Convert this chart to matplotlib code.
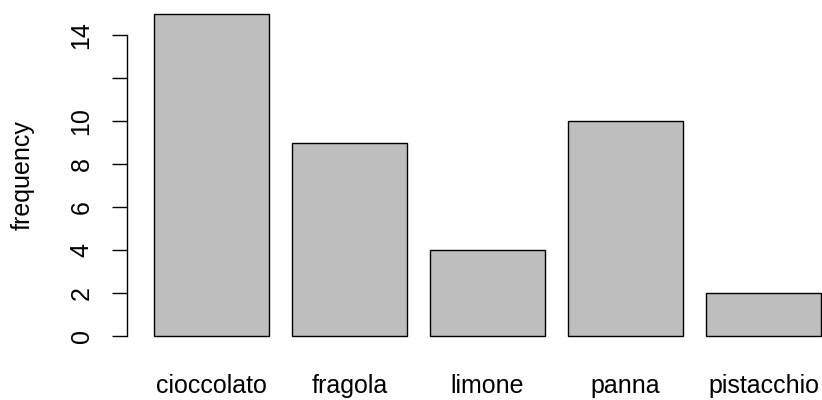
import matplotlib
matplotlib.use("Agg")
import matplotlib.pyplot as plt

categories = ["cioccolato", "fragola", "limone", "panna", "pistacchio"]
values = [15, 9, 4, 10, 2]
yticks = [0, 2, 4, 6, 8, 10, 12, 14]
ytick_labels = ["0", "2", "4", "6", "8", "10", "", "14"]

plt.rcParams['font.family'] = ['Liberation Sans', 'DejaVu Sans']

W, H = 822, 400
fig = plt.figure(figsize=(W / 100, H / 100), dpi=100)
left_px, right_px = 127.3, 847.7
top_px, bottom_px = 0.6, 348.9
ax = fig.add_axes([left_px / W, 1 - bottom_px / H, (right_px - left_px) / W, (bottom_px - top_px) / H])

width = 1.0
space = 0.2
centers = [space + width / 2 + i * (width + space) for i in range(len(values))]
ax.bar(centers, values, width=width, color="#BEBEBE", edgecolor="black", linewidth=1.0)

ax.set_xlim(-0.032, 6.232)
ax.set_ylim(-0.6, 15.6)

for s in ["top", "right", "bottom"]:
    ax.spines[s].set_visible(False)
ax.spines["left"].set_bounds(0, 14)
ax.spines["left"].set_linewidth(1.0)

fs = 18
ax.set_yticks(yticks)
ax.set_yticklabels(ytick_labels, rotation=90, va="center", fontsize=fs)
ax.tick_params(axis="y", length=10.8, width=1.0, pad=13.5, direction="out")

ax.set_xticks(centers)
ax.set_xticklabels(categories, fontsize=fs)
ax.tick_params(axis="x", length=0, pad=18)

fig.text(23 / W, 1 - 175 / H, "frequency", rotation=90, ha="center", va="center", fontsize=fs)

fig.savefig("out.png", dpi=100)
